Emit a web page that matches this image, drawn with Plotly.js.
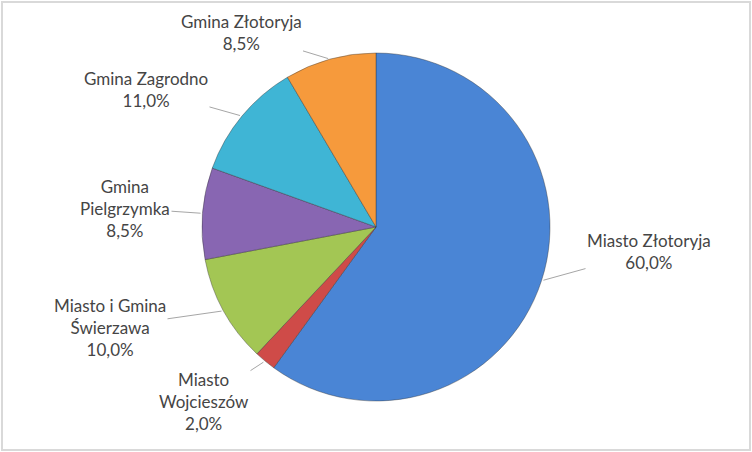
<!DOCTYPE html>
<html>
<head>
<meta charset="utf-8">
<script src="https://cdn.plot.ly/plotly-3.0.1.min.js"></script>
<style>
  html, body { margin: 0; padding: 0; background: #fff; }
  #chart { width: 752px; height: 452px; }
</style>
</head>
<body>
<div id="chart"></div>
<script>
// data, clockwise from 12 o'clock
const categories = ['Miasto Złotoryja', 'Miasto Wojcieszów', 'Miasto i Gmina Świerzawa',
                    'Gmina Pielgrzymka', 'Gmina Zagrodno', 'Gmina Złotoryja']
const labelLines = ['Miasto Złotoryja', 'Miasto<br>Wojcieszów', 'Miasto i Gmina<br>Świerzawa',
                    'Gmina<br>Pielgrzymka', 'Gmina Zagrodno', 'Gmina Złotoryja']
const shares = [60.0, 2.0, 10.0, 8.5, 11.0, 8.5]

// styling / layout
const colors = ['#4a85d5', '#cf4b48', '#a3c654', '#8866b2', '#3fb5d5', '#f69a3c']
const W = 752, H = 452
const cx = 376, cy = 227, R = 174
// where each label's text block sits (pixels from top-left)
const labelPos = [[649, 251], [204, 401], [110, 327], [125, 208], [146, 89], [241, 32]]

const total = shares.reduce((a, b) => a + b, 0)

const trace = {
  type: 'pie',
  labels: categories,
  values: shares,
  sort: false,
  direction: 'clockwise',
  rotation: 0,
  textinfo: 'none',
  hoverinfo: 'label+percent',
  marker: { colors: colors, line: { color: 'rgba(50,50,50,0.4)', width: 1 } },
  domain: {
    x: [(cx - R) / W, (cx + R) / W],
    y: [(H - cy - R) / H, (H - cy + R) / H]
  },
  showlegend: false
}

// leader lines: from label to the middle of the slice edge
let acc = 0
const annotations = shares.map((v, i) => {
  const mid = (acc + v / 2) / total * 2 * Math.PI
  acc += v
  const ex = cx + R * Math.sin(mid)
  const ey = cy - R * Math.cos(mid)
  const pct = (v / total * 100).toFixed(1).replace('.', ',') + '%'
  return {
    x: ex / W, y: 1 - ey / H, xref: 'paper', yref: 'paper',
    text: labelLines[i] + '<br>' + pct,
    showarrow: true, arrowhead: 0, arrowwidth: 1, arrowcolor: '#a6a6a6',
    standoff: 2,
    ax: labelPos[i][0] - ex, ay: labelPos[i][1] - ey,
    align: 'center',
    font: { family: 'Lato, "Open Sans", sans-serif', size: 17, color: '#454545' }
  }
})

const layout = {
  width: W, height: H,
  margin: { l: 0, r: 0, t: 0, b: 0 },
  paper_bgcolor: '#fff',
  annotations: annotations,
  shapes: [{
    type: 'rect', xref: 'paper', yref: 'paper',
    x0: 2 / W, x1: 1 - 2 / W, y0: 2 / H, y1: 1 - 2 / H,
    line: { color: '#d9d9d9', width: 2 }
  }]
}

Plotly.newPlot('chart', [trace], layout, { displayModeBar: false, staticPlot: true })
</script>
</body>
</html>
